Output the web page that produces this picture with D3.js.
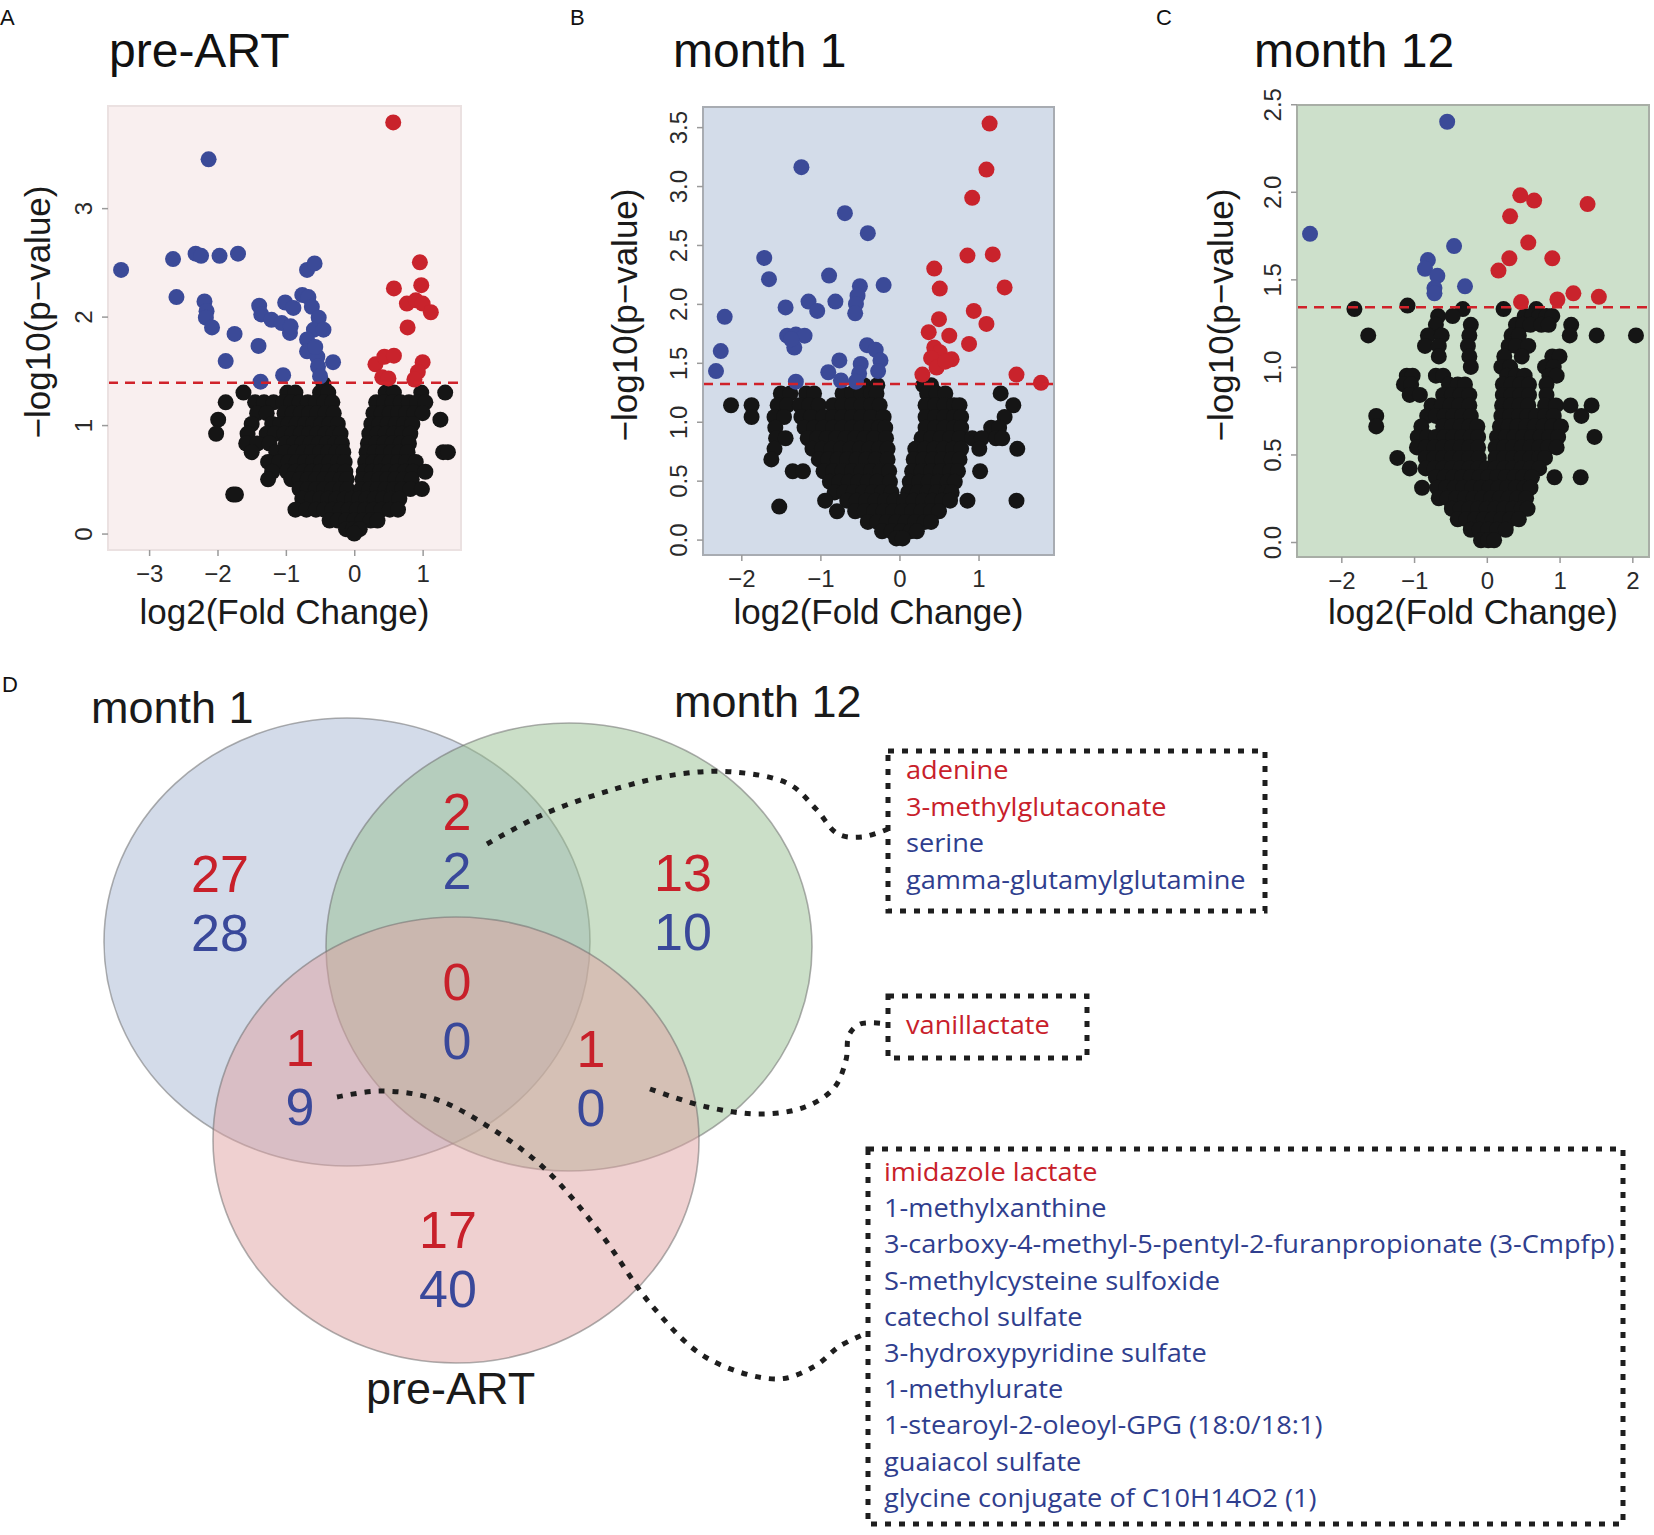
<!DOCTYPE html>
<html>
<head>
<meta charset="utf-8">
<script src="https://cdn.jsdelivr.net/npm/d3@7"></script>
<style>
  body { margin: 0; background: #fff; }
  svg { display: block; font-family: "Liberation Sans", Arial, sans-serif; }
</style>
</head>
<body>
<svg id="fig" width="1654" height="1535"></svg>
<script>
/*
** Data
*/
// volcano points: [log2 fold change, -log10 p]
var preArtBlue = [[-3.41,2.43],[-2.13,3.45],[-2.65,2.53],[-2.32,2.58],[-2.24,2.56],[-1.97,2.56],[-1.70,2.58],
    [-2.60,2.18],[-2.19,2.14],[-2.16,2.05],[-2.17,1.99],[-2.08,1.90],[-1.75,1.84],[-1.88,1.59],[-1.40,1.73],
    [-1.39,2.10],[-1.36,2.02],[-1.21,1.97],[-1.06,1.94],[-1.01,2.13],[-0.89,2.08],[-0.94,1.85],[-0.93,1.91],
    [-0.76,2.20],[-0.67,2.18],[-0.62,2.09],[-0.69,2.43],[-0.58,2.49],[-0.52,1.99],[-0.59,1.88],[-0.45,1.88],
    [-0.69,1.79],[-0.69,1.68],[-0.54,1.63],[-0.31,1.58],[-0.53,1.54],[-0.50,1.45],[-1.04,1.46],[-1.37,1.40],
    [-0.57,1.72]];
var preArtRed = [[0.57,3.79],[0.96,2.50],[0.98,2.29],[0.58,2.26],[0.77,2.12],[0.90,2.15],[1.00,2.12],
    [1.12,2.04],[0.78,1.90],[0.31,1.56],[0.44,1.63],[0.58,1.64],[0.41,1.44],[0.50,1.43],[1.00,1.58],
    [0.93,1.49],[0.88,1.42]];
// black (not significant) points, one row per -log10 p level: [y, [x, x, ...]]
var preArtBlackRows = [
    [1.38, [-0.45]],
    [1.30, [-1.62,-0.98,-0.86,-0.50,-0.38,0.46,0.58,0.98,1.33]],
    [1.21, [-1.88,-1.45,-1.32,-1.18,-1.04,-0.92,-0.80,-0.68,-0.56,-0.44,-0.32,0.32,0.44,0.56,0.68,0.80,0.92,1.04]],
    [1.11, [-1.42,-1.28,-1.02,-0.90,-0.78,-0.66,-0.54,-0.42,-0.30,0.28,0.40,0.52,0.64,0.76,0.88,1.00]],
    [1.05, [-1.99,1.26]],
    [1.01, [-1.50,-1.20,-1.08,-0.96,-0.84,-0.72,-0.60,-0.48,-0.36,-0.24,0.25,0.37,0.49,0.61,0.73,0.85]],
    [0.92, [-2.02,-1.56,-1.28,-1.16,-1.02,-0.90,-0.78,-0.66,-0.54,-0.42,-0.30,-0.20,0.22,0.34,0.46,0.58,0.70,0.82]],
    [0.83, [-1.58,-1.42,-1.24,-1.00,-0.88,-0.76,-0.64,-0.52,-0.40,-0.28,-0.18,0.20,0.32,0.44,0.56,0.68,0.80]],
    [0.75, [-1.50,-1.14,-1.00,-0.86,-0.74,-0.62,-0.50,-0.38,-0.26,-0.16,0.18,0.30,0.42,0.54,0.66,0.78,1.30,1.37]],
    [0.66, [-1.26,-1.10,-0.96,-0.84,-0.72,-0.60,-0.48,-0.36,-0.24,-0.14,0.16,0.28,0.40,0.52,0.64,0.76,0.90]],
    [0.57, [-1.20,-0.98,-0.86,-0.74,-0.62,-0.50,-0.38,-0.26,-0.13,0.14,0.26,0.38,0.50,0.62,0.74,0.86,1.04]],
    [0.50, [-1.26,-0.92,-0.80,-0.68,-0.56,-0.44,-0.32,-0.20,-0.11,0.12,0.24,0.36,0.48,0.60,0.72,0.84]],
    [0.41, [-0.80,-0.68,-0.56,-0.44,-0.32,-0.20,-0.10,0.10,0.22,0.34,0.46,0.58,0.70,0.82,0.99]],
    [0.36, [-1.77,-1.73]],
    [0.32, [-0.76,-0.62,-0.50,-0.38,-0.26,-0.14,-0.03,0.07,0.18,0.30,0.42,0.54,0.66]],
    [0.22, [-0.86,-0.70,-0.56,-0.44,-0.32,-0.20,-0.08,0.04,0.16,0.28,0.40,0.52,0.64]],
    [0.12, [-0.36,-0.24,-0.12,0.00,0.12,0.24,0.34]],
    [0.04, [-0.12,-0.02,0.08]],
    [0.00, [0.00]]
];

var month1Blue = [[-1.24,3.16],[-0.69,2.77],[-0.40,2.60],[-1.71,2.39],[-1.65,2.21],[-0.89,2.24],[-0.20,2.16],
    [-0.50,2.15],[-0.53,2.07],[-0.55,2.00],[-0.56,1.92],[-0.81,2.02],[-1.15,2.02],[-1.04,1.94],[-1.44,1.97],
    [-2.21,1.89],[-2.26,1.60],[-2.32,1.43],[-1.42,1.73],[-1.31,1.74],[-1.20,1.73],[-1.33,1.63],[-1.37,1.70],
    [-1.31,1.34],[-0.76,1.52],[-0.90,1.42],[-0.74,1.35],[-0.41,1.65],[-0.30,1.61],[-0.24,1.52],[-0.27,1.43],
    [-0.49,1.49],[-0.51,1.41],[-0.55,1.34]];
var month1Red = [[1.14,3.53],[1.10,3.14],[0.92,2.90],[0.86,2.41],[1.18,2.42],[0.44,2.30],[0.51,2.13],
    [1.33,2.14],[0.50,1.87],[0.94,1.94],[1.10,1.83],[0.88,1.66],[0.37,1.76],[0.63,1.73],[0.44,1.63],
    [0.51,1.59],[0.40,1.54],[0.66,1.53],[0.47,1.46],[0.29,1.40],[1.48,1.40],[1.79,1.33],[0.58,1.51]];
var month1BlackRows = [
    [1.31, [-0.45,-0.28,0.30,0.40]],
    [1.24, [-1.50,-1.38,-1.18,-1.08,-0.72,-0.60,-0.48,-0.36,-0.29,0.35,0.47,0.58,1.28]],
    [1.14, [-2.13,-1.87,-1.54,-1.42,-1.26,-1.14,-1.02,-0.84,-0.72,-0.60,-0.48,-0.36,-0.25,0.33,0.45,0.57,0.69,0.76,1.44]],
    [1.04, [-1.87,-1.58,-1.46,-1.24,-1.12,-0.96,-0.84,-0.72,-0.60,-0.48,-0.36,-0.20,0.33,0.45,0.57,0.69,0.78,1.33]],
    [0.95, [-1.57,-1.20,-1.08,-0.96,-0.84,-0.72,-0.60,-0.48,-0.36,-0.26,-0.18,0.33,0.45,0.57,0.69,0.78,1.16,1.26]],
    [0.86, [-1.56,-1.44,-1.16,-1.04,-0.92,-0.80,-0.68,-0.56,-0.44,-0.32,-0.17,0.28,0.40,0.52,0.64,0.76,0.92,1.04,1.22,1.30]],
    [0.77, [-1.58,-1.10,-0.98,-0.86,-0.74,-0.62,-0.50,-0.38,-0.26,-0.15,0.20,0.32,0.44,0.56,0.68,0.78,1.01,1.49]],
    [0.68, [-1.62,-1.02,-0.90,-0.78,-0.66,-0.54,-0.42,-0.30,-0.15,0.18,0.30,0.42,0.54,0.66,0.76]],
    [0.58, [-1.35,-1.22,-0.96,-0.84,-0.72,-0.60,-0.48,-0.36,-0.24,-0.13,0.16,0.28,0.40,0.52,0.64,0.74,1.02]],
    [0.49, [-0.88,-0.76,-0.64,-0.52,-0.40,-0.28,-0.12,0.13,0.25,0.37,0.49,0.61,0.70]],
    [0.40, [-0.82,-0.70,-0.58,-0.46,-0.34,-0.22,-0.10,0.11,0.23,0.35,0.47,0.59,0.66]],
    [0.33, [-0.94,-0.66,-0.54,-0.42,-0.30,-0.18,-0.06,0.06,0.18,0.30,0.42,0.54,0.64,0.86,1.48]],
    [0.28, [-1.52]],
    [0.24, [-0.79,-0.56,-0.44,-0.32,-0.20,-0.08,0.04,0.16,0.28,0.40,0.50]],
    [0.15, [-0.40,-0.28,-0.16,-0.04,0.08,0.20,0.32,0.40]],
    [0.07, [-0.22,-0.10,0.02,0.14,0.22]],
    [0.01, [-0.04,0.04]]
];

var month12Blue = [[-0.545,2.40],[-2.43,1.76],[-0.45,1.69],[-0.81,1.61],[-0.85,1.56],[-0.68,1.52],
    [-0.72,1.45],[-0.72,1.42],[-0.30,1.46]];
var month12Red = [[0.46,1.98],[0.65,1.95],[1.385,1.93],[0.32,1.86],[0.57,1.71],[0.31,1.62],[0.90,1.62],
    [0.16,1.55],[1.19,1.42],[1.54,1.40],[0.97,1.385],[0.47,1.37]];
var month12BlackRows = [
    [1.35, [-1.09]],
    [1.33, [-1.82,-0.33,0.23,0.68]],
    [1.29, [-0.67,-0.47,0.52,0.62,0.72,0.82,0.90]],
    [1.24, [-0.70,-0.22,0.40,0.50,0.60,0.75,0.85,1.16]],
    [1.18, [-1.63,-0.81,-0.62,-0.24,0.34,0.44,1.14,1.51,2.05]],
    [1.12, [-0.85,-0.66,-0.26,0.30,0.40,0.57]],
    [1.06, [-0.66,-0.24,0.24,0.48,0.90,1.00]],
    [1.00, [-0.22,0.20,0.32,0.80,0.92]],
    [0.95, [-1.10,-1.02,-0.70,-0.60,0.28,0.40,0.52,0.86,0.96]],
    [0.90, [-1.14,-1.04,-0.52,-0.40,-0.30,0.22,0.34,0.46,0.58,0.82]],
    [0.84, [-1.06,-0.92,-0.60,-0.48,-0.36,-0.24,0.22,0.34,0.46,0.58,0.82]],
    [0.78, [-0.76,-0.62,-0.50,-0.38,-0.24,0.21,0.33,0.45,0.57,0.80,0.95,1.15,1.44]],
    [0.72, [-1.52,-0.82,-0.70,-0.58,-0.46,-0.34,-0.22,0.20,0.32,0.44,0.56,0.68,0.80,0.92,1.30]],
    [0.66, [-1.52,-0.90,-0.60,-0.48,-0.36,-0.24,-0.13,0.18,0.30,0.42,0.54,0.66,0.78,0.90,1.02]],
    [0.60, [-0.95,-0.82,-0.70,-0.58,-0.46,-0.34,-0.22,-0.12,0.14,0.26,0.38,0.50,0.62,0.74,0.86,0.98,1.48]],
    [0.54, [-0.96,-0.84,-0.72,-0.60,-0.48,-0.36,-0.24,-0.12,0.12,0.24,0.36,0.48,0.60,0.72,0.84,0.96]],
    [0.48, [-1.23,-0.84,-0.72,-0.60,-0.48,-0.36,-0.24,-0.11,0.12,0.24,0.36,0.48,0.60,0.72,0.80]],
    [0.42, [-1.06,-0.84,-0.72,-0.60,-0.48,-0.36,-0.24,-0.12,0.00,0.12,0.24,0.36,0.48,0.60,0.72]],
    [0.37, [-0.70,-0.58,-0.46,-0.34,-0.22,-0.10,0.02,0.14,0.26,0.38,0.50,0.62,0.93,1.29]],
    [0.31, [-0.89,-0.68,-0.56,-0.44,-0.32,-0.20,-0.08,0.04,0.16,0.28,0.40,0.52,0.60]],
    [0.25, [-0.66,-0.54,-0.42,-0.30,-0.18,-0.06,0.06,0.18,0.30,0.42,0.54]],
    [0.19, [-0.48,-0.36,-0.24,-0.12,0.00,0.12,0.24,0.36,0.48,0.56]],
    [0.13, [-0.40,-0.28,-0.16,-0.04,0.08,0.20,0.32,0.44]],
    [0.07, [-0.22,-0.10,0.02,0.14,0.26]],
    [0.01, [-0.08,0.02,0.10]]
];

var cutoffs = [1.39, 1.32, 1.34];
var panelTitles = ["pre-ART", "month 1", "month 12"];
var panelLetters = ["A", "B", "C"];
var xTickValues = [[-3, -2, -1, 0, 1], [-2, -1, 0, 1], [-2, -1, 0, 1, 2]];
var yTickValues = [[0, 1, 2, 3], [0, 0.5, 1, 1.5, 2, 2.5, 3, 3.5], [0, 0.5, 1, 1.5, 2, 2.5]];
var xTitle = "log2(Fold Change)";
var yTitle = "\u2212log10(p\u2212value)";

// Venn counts (up = red, down = blue)
var vennSets = ["month 1", "month 12", "pre-ART"];
var vennRegions = ["month 1", "month 1 & month 12", "month 12", "all", "month 1 & pre-ART", "month 12 & pre-ART", "pre-ART"];
var vennUp = [27, 2, 13, 0, 1, 1, 17];
var vennDown = [28, 2, 10, 0, 9, 0, 40];

// metabolites shared between sets
var sharedM1M12 = ["adenine", "3-methylglutaconate", "serine", "gamma-glutamylglutamine"];
var sharedM1M12Dir = ["up", "up", "down", "down"];
var sharedM12Pre = ["vanillactate"];
var sharedM12PreDir = ["up"];
var sharedM1Pre = ["imidazole lactate", "1-methylxanthine",
    "3-carboxy-4-methyl-5-pentyl-2-furanpropionate (3-Cmpfp)", "S-methylcysteine sulfoxide",
    "catechol sulfate", "3-hydroxypyridine sulfate", "1-methylurate", "1-stearoyl-2-oleoyl-GPG (18:0/18:1)",
    "guaiacol sulfate", "glycine conjugate of C10H14O2 (1)"];
var sharedM1PreDir = ["up", "down", "down", "down", "down", "down", "down", "down", "down", "down"];

/*
** Styles
*/
var RED = "#c9232c", BLUE = "#3b4a98", BLACK = "#151515";
var TXT_RED = "#c8202a", TXT_BLUE = "#2f3e8e";

function rowsToPoints(rows) {
    var pts = [];
    rows.forEach(function(r) {
        r[1].forEach(function(x) { pts.push([x, r[0]]); });
    });
    return pts;
}

/*
** Volcano panel (closure with getter/setters)
*/
function VolcanoPanel() {
    var svg, black, blue, red, cutoff, xTicks, yTicks, yFormat,
        left, top, width, height, fill, frame, clipId, yTitleOffset;

    function my() {
        var all = black.concat(blue, red);
        var xr = d3.extent(all, function(d) { return d[0]; }),
            yr = d3.extent(all, function(d) { return d[1]; });
        var xpad = (xr[1] - xr[0]) * 0.04,
            ypad = (yr[1] - yr[0]) * 0.04;
        var x = d3.scaleLinear().domain([xr[0] - xpad, xr[1] + xpad]).range([0, width]),
            y = d3.scaleLinear().domain([yr[0] - ypad, yr[1] + ypad]).range([height, 0]);

        var g = svg.append("g")
            .attr("transform", "translate(" + left + "," + top + ")");

        g.append("clipPath").attr("id", clipId)
          .append("rect").attr("width", width).attr("height", height);

        g.append("rect")
            .attr("width", width).attr("height", height)
            .attr("fill", fill);

        var dots = g.append("g").attr("clip-path", "url(#" + clipId + ")");
        [[black, BLACK], [blue, BLUE], [red, RED]].forEach(function(s) {
            dots.append("g").selectAll("circle")
                .data(s[0])
              .enter().append("circle")
                .attr("cx", function(d) { return x(d[0]); })
                .attr("cy", function(d) { return y(d[1]); })
                .attr("r", 8)
                .attr("fill", s[1]);
        });

        g.append("line")
            .attr("x1", 0).attr("x2", width)
            .attr("y1", y(cutoff)).attr("y2", y(cutoff))
            .attr("stroke", "#d0222a")
            .attr("stroke-width", 2.5)
            .attr("stroke-dasharray", "10,7");

        g.append("rect")
            .attr("width", width).attr("height", height)
            .attr("fill", "none")
            .attr("stroke", frame)
            .attr("stroke-width", 2);

        var xa = g.append("g")
            .attr("transform", "translate(0," + height + ")")
            .call(d3.axisBottom(x).tickValues(xTicks).tickSize(6).tickPadding(9).tickFormat(d3.format("d")));
        var ya = g.append("g")
            .call(d3.axisLeft(y).tickValues(yTicks).tickSize(6).tickFormat(d3.format(yFormat)));

        [xa, ya].forEach(function(a) {
            a.attr("font-family", "'Liberation Sans', Arial, sans-serif").attr("font-size", 24);
            a.select(".domain").remove();
            a.selectAll(".tick line").attr("stroke", "#9a9a9a").attr("stroke-width", 1.5);
            a.selectAll(".tick text").attr("fill", "#2a2a2a");
        });
        ya.selectAll(".tick text")
            .attr("x", 0).attr("dy", "0.35em")
            .attr("text-anchor", "middle")
            .attr("transform", "translate(-24,0) rotate(-90)");

        g.append("text")
            .attr("transform", "translate(" + yTitleOffset + "," + (height / 2 - 16) + ") rotate(-90)")
            .attr("text-anchor", "middle")
            .attr("font-size", 35)
            .attr("fill", "#1a1a1a")
            .text(yTitle);

        g.append("text")
            .attr("x", width / 2)
            .attr("y", 624 - top)
            .attr("text-anchor", "middle")
            .attr("font-size", 35)
            .attr("fill", "#1a1a1a")
            .text(xTitle);
    } // my()

    my.svg = function(v) { if (!arguments.length) return svg; svg = v; return my; };
    my.black = function(v) { if (!arguments.length) return black; black = v; return my; };
    my.blue = function(v) { if (!arguments.length) return blue; blue = v; return my; };
    my.red = function(v) { if (!arguments.length) return red; red = v; return my; };
    my.cutoff = function(v) { if (!arguments.length) return cutoff; cutoff = v; return my; };
    my.xTicks = function(v) { if (!arguments.length) return xTicks; xTicks = v; return my; };
    my.yTicks = function(v) { if (!arguments.length) return yTicks; yTicks = v; return my; };
    my.yFormat = function(v) { if (!arguments.length) return yFormat; yFormat = v; return my; };
    my.box = function(l, t, w, h) { left = l; top = t; width = w; height = h; return my; };
    my.fill = function(v) { if (!arguments.length) return fill; fill = v; return my; };
    my.frame = function(v) { if (!arguments.length) return frame; frame = v; return my; };
    my.clipId = function(v) { if (!arguments.length) return clipId; clipId = v; return my; };
    my.yTitleOffset = function(v) { if (!arguments.length) return yTitleOffset; yTitleOffset = v; return my; };

    return my;
}

/*
** Layout
*/
var svg = d3.select("#fig");

var panelLayout = [
    { letterX: 0,    titleX: 109,  left: 108,  top: 106, w: 353, h: 444, fill: "#f9efef", frame: "#ebe1e1", yt: -58, fmt: "d" },
    { letterX: 570,  titleX: 673,  left: 703,  top: 107, w: 351, h: 448, fill: "#d3dce9", frame: "#a8acb2", yt: -66, fmt: ".1f" },
    { letterX: 1156, titleX: 1254, left: 1297, top: 105, w: 352, h: 452, fill: "#cde0cb", frame: "#a8aea6", yt: -64, fmt: ".1f" }
];
var blacks = [rowsToPoints(preArtBlackRows), rowsToPoints(month1BlackRows), rowsToPoints(month12BlackRows)];
var blues = [preArtBlue, month1Blue, month12Blue];
var reds = [preArtRed, month1Red, month12Red];

panelLayout.forEach(function(p, i) {
    svg.append("text")
        .attr("x", p.letterX).attr("y", 25)
        .attr("font-size", 22).attr("fill", "#111")
        .text(panelLetters[i]);
    svg.append("text")
        .attr("x", p.titleX).attr("y", 67)
        .attr("font-size", 48).attr("fill", "#111")
        .text(panelTitles[i]);

    VolcanoPanel()
        .svg(svg)
        .black(blacks[i]).blue(blues[i]).red(reds[i])
        .cutoff(cutoffs[i])
        .xTicks(xTickValues[i]).yTicks(yTickValues[i]).yFormat(p.fmt)
        .box(p.left, p.top, p.w, p.h)
        .fill(p.fill).frame(p.frame)
        .yTitleOffset(p.yt)
        .clipId("clip" + i)
    ();
});

/*
** Panel D: Venn diagram
*/
svg.append("text")
    .attr("x", 2).attr("y", 692)
    .attr("font-size", 22).attr("fill", "#111")
    .text("D");

var vennShapes = [
    { cx: 347, cy: 942,  rx: 243, ry: 224, fill: "#a7b8d3" },
    { cx: 569, cy: 947,  rx: 243, ry: 224, fill: "#98bf92" },
    { cx: 456, cy: 1140, rx: 243, ry: 223, fill: "#e0a2a2" }
];
var vennLabelPos = [[91, 723], [674, 717], [366, 1404]];
var regionPos = [[220, 892], [457, 830], [683, 891], [457, 1000], [300, 1066], [591, 1067], [448, 1248]];

var venn = svg.append("g");
venn.selectAll("ellipse")
    .data(vennShapes)
  .enter().append("ellipse")
    .attr("cx", function(d) { return d.cx; })
    .attr("cy", function(d) { return d.cy; })
    .attr("rx", function(d) { return d.rx; })
    .attr("ry", function(d) { return d.ry; })
    .attr("fill", function(d) { return d.fill; })
    .attr("fill-opacity", 0.5)
    .attr("stroke", "#6f6f6f")
    .attr("stroke-opacity", 0.55)
    .attr("stroke-width", 1.6);

venn.selectAll("text.set")
    .data(vennSets)
  .enter().append("text")
    .attr("class", "set")
    .attr("x", function(d, i) { return vennLabelPos[i][0]; })
    .attr("y", function(d, i) { return vennLabelPos[i][1]; })
    .attr("font-size", 45)
    .attr("fill", "#1a1a1a")
    .text(function(d) { return d; });

// connectors from overlap regions to the metabolite boxes
var connectors = [
    [[487,844],[544,814],[615,789],[680,774],[734,772],[789,784],[816,809],[838,834],[862,837],[888,829]],
    [[650,1089],[707,1107],[761,1114],[805,1107],[834,1088],[846,1060],[849,1035],[860,1024],[888,1024]],
    [[337,1097],[381,1091],[435,1099],[489,1127],[544,1168],[598,1230],[653,1307],[707,1358],[778,1379],[815,1366],[840,1346],[867,1333]]
];
var curve = d3.line().curve(d3.curveCatmullRom.alpha(0.5));
svg.append("g").selectAll("path")
    .data(connectors)
  .enter().append("path")
    .attr("d", curve)
    .attr("fill", "none")
    .attr("stroke", "#1e1e1e")
    .attr("stroke-width", 5)
    .attr("stroke-dasharray", "6,8");

var counts = svg.append("g")
    .attr("font-size", 52)
    .attr("text-anchor", "middle");
counts.selectAll("text.up")
    .data(vennRegions)
  .enter().append("text")
    .attr("x", function(d, i) { return regionPos[i][0]; })
    .attr("y", function(d, i) { return regionPos[i][1]; })
    .attr("fill", TXT_RED)
    .text(function(d, i) { return vennUp[i]; });
counts.selectAll("text.down")
    .data(vennRegions)
  .enter().append("text")
    .attr("x", function(d, i) { return regionPos[i][0]; })
    .attr("y", function(d, i) { return regionPos[i][1] + 59; })
    .attr("fill", "#39489a")
    .text(function(d, i) { return vennDown[i]; });

/*
** Metabolite boxes
*/
var boxLayout = [
    { x: 888, y: 751,  w: 377, h: 160, tx: 906, base: 779,  step: 36.6, names: sharedM1M12, dirs: sharedM1M12Dir },
    { x: 888, y: 996,  w: 199, h: 62,  tx: 906, base: 1034, step: 36.6, names: sharedM12Pre, dirs: sharedM12PreDir },
    { x: 868, y: 1149, w: 755, h: 375, tx: 884, base: 1181, step: 36.2, names: sharedM1Pre, dirs: sharedM1PreDir }
];

var boxGroups = boxLayout.map(function(b) {
    var g = svg.append("g");
    g.append("rect")
        .attr("x", b.x).attr("y", b.y)
        .attr("width", b.w).attr("height", b.h)
        .attr("fill", "none")
        .attr("stroke", "#1e1e1e")
        .attr("stroke-width", 5)
        .attr("stroke-dasharray", "6,8");
    var t = g.append("g")
        .attr("font-family", "'Open Sans', sans-serif")
        .attr("font-size", 26);
    t.selectAll("text")
        .data(b.names)
      .enter().append("text")
        .attr("x", b.tx)
        .attr("y", function(d, i) { return b.base + i * b.step; })
        .attr("fill", function(d, i) { return b.dirs[i] === "up" ? TXT_RED : TXT_BLUE; })
        .text(function(d) { return d; });
    return t;
});

// the original face is narrower than Open Sans: squeeze so the longest line spans the same width
var longest = d3.max(boxGroups[2].selectAll("text").nodes(), function(n) { return n.getComputedTextLength(); });
var squeeze = 731 / longest;
boxGroups.forEach(function(t, i) {
    var x0 = boxLayout[i].tx;
    t.attr("transform", "translate(" + x0 + ",0) scale(" + squeeze + ",1) translate(" + (-x0) + ",0)");
});
</script>
</body>
</html>
